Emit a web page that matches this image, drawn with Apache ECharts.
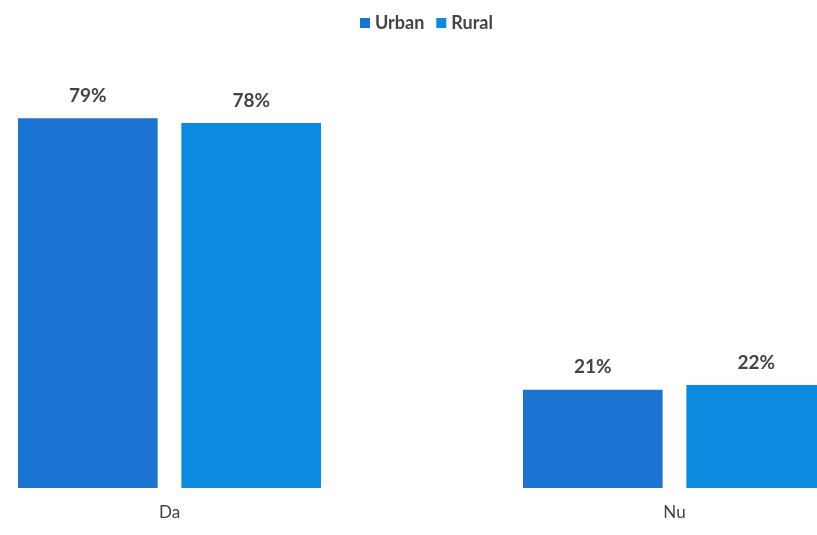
<!DOCTYPE html>
<html><head><meta charset="utf-8">
<script src="https://cdn.jsdelivr.net/npm/echarts@6/dist/echarts.min.js"></script>
<style>html,body{margin:0;padding:0;background:#fff}#c{width:817px;height:535px}</style>
</head><body><div id="c"></div>
<script>
const categories = ['Da', 'Nu'];
const urban = [79, 21];
const rural = [78, 22];
const seriesNames = ['Urban', 'Rural'];

const chart = echarts.init(document.getElementById('c'));
const lbl = {show: true, position: 'top', distance: 13, formatter: '{c}%', color: '#444', fontFamily: 'Lato', fontWeight: 'bold', fontSize: 19};
chart.setOption({
  animation: false,
  color: ['#1b74d1', '#0b8ae0'],
  legend: {data: seriesNames, left: 355, top: 9, icon: 'rect', itemWidth: 10, itemHeight: 10, itemGap: 12,
    textStyle: {color: '#444', fontFamily: 'Lato', fontWeight: 'bold', fontSize: 18}},
  grid: {left: -83, right: -110, top: 20, bottom: 47, outerBoundsMode: 'none', containLabel: false},
  xAxis: {type: 'category', data: categories, axisLine: {show: false}, axisTick: {show: false},
    axisLabel: {color: '#444', fontFamily: 'Lato', fontSize: 17, margin: 16}},
  yAxis: {type: 'value', min: 0, max: 100, show: false, splitLine: {show: false}},
  series: [
    {name: seriesNames[0], type: 'bar', data: urban, barGap: '17%', barCategoryGap: '40%', label: lbl},
    {name: seriesNames[1], type: 'bar', data: rural, label: lbl}
  ]
});
</script></body></html>
